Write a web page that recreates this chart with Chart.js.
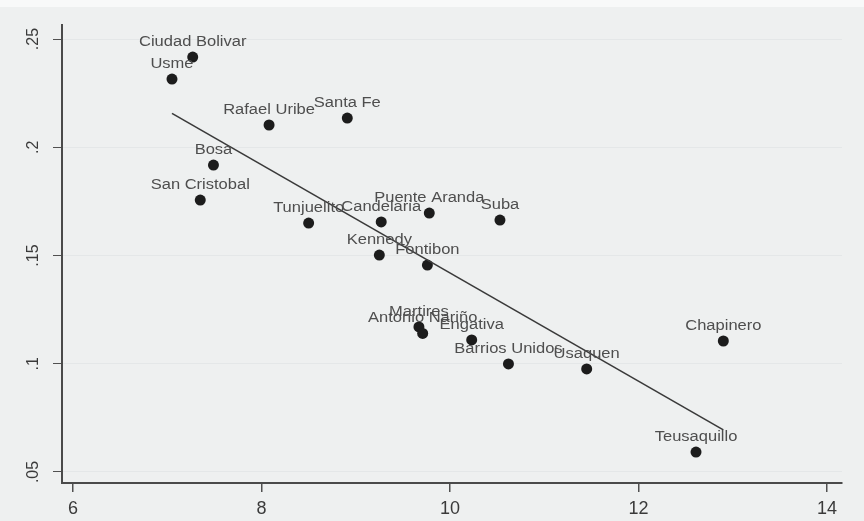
<!DOCTYPE html>
<html>
<head>
<meta charset="utf-8">
<script src="https://cdn.jsdelivr.net/npm/chart.js@4.4.1/dist/chart.umd.min.js"></script>
<style>
  html, body { margin: 0; padding: 0; background: #eef0f0; }
  #wrap { width: 864px; height: 521px; position: relative; }
</style>
</head>
<body>
<div id="wrap"><canvas id="c" width="864" height="521"></canvas></div>
<script>
// Bogotá localities: one point per locality
const localities = [
  'Ciudad Bolivar', 'Usme', 'Rafael Uribe', 'Santa Fe', 'Bosa', 'San Cristobal',
  'Tunjuelito', 'Candelaria', 'Puente Aranda', 'Suba', 'Kennedy', 'Fontibon',
  'Martires', 'Antonio Nariño', 'Engativa', 'Barrios Unidos', 'Usaquen',
  'Chapinero', 'Teusaquillo'
];
const xValues = [
  7.27, 7.05, 8.08, 8.91, 7.49, 7.35,
  8.50, 9.27, 9.78, 10.53, 9.25, 9.76,
  9.67, 9.71, 10.23, 10.62, 11.45,
  12.90, 12.61
];
const yValues = [
  0.2417, 0.2315, 0.2103, 0.2135, 0.1918, 0.1756,
  0.1650, 0.1655, 0.1696, 0.1664, 0.1502, 0.1456,
  0.1170, 0.1140, 0.1110, 0.0999, 0.0976,
  0.1105, 0.0592
];
const xTicks = [6, 8, 10, 12, 14];
const yTicks = [0.05, 0.1, 0.15, 0.2, 0.25];
const yTickLabels = ['.05', '.1', '.15', '.2', '.25'];

// Least-squares fitted line over the observed x range
function linearFit(xs, ys) {
  const n = xs.length;
  const mx = xs.reduce((a, b) => a + b, 0) / n;
  const my = ys.reduce((a, b) => a + b, 0) / n;
  let sxy = 0, sxx = 0;
  for (let i = 0; i < n; i++) {
    sxy += (xs[i] - mx) * (ys[i] - my);
    sxx += (xs[i] - mx) * (xs[i] - mx);
  }
  const b = sxy / sxx;
  const a = my - b * mx;
  const x0 = Math.min(...xs), x1 = Math.max(...xs);
  return [{ x: x0, y: a + b * x0 }, { x: x1, y: a + b * x1 }];
}

const points = xValues.map((x, i) => ({ x, y: yValues[i] }));
const fitted = linearFit(xValues, yValues);

const paperBackground = {
  id: 'paperBackground',
  beforeDraw(chart) {
    const ctx = chart.ctx;
    ctx.save();
    ctx.fillStyle = '#eef0f0';
    ctx.fillRect(0, 0, chart.width, chart.height);
    ctx.fillStyle = '#f8f9f9';
    ctx.fillRect(0, 0, chart.width, 7);
    ctx.restore();
  }
};

// Vertical (rotated) tick labels on the y axis
const yTickText = {
  id: 'yTickText',
  afterDraw(chart) {
    const ctx = chart.ctx;
    const ys = chart.scales.y;
    ctx.save();
    ctx.fillStyle = '#3a3a3a';
    ctx.font = '16px "Liberation Sans", Arial, sans-serif';
    ctx.textAlign = 'center';
    ctx.textBaseline = 'middle';
    yTicks.forEach((v, i) => {
      const py = ys.getPixelForValue(v);
      ctx.save();
      ctx.translate(34, py);
      ctx.rotate(-Math.PI / 2);
      ctx.fillText(yTickLabels[i], 0, 0);
      ctx.restore();
    });
    ctx.restore();
  }
};

// Locality names centred above each marker
const pointNames = {
  id: 'pointNames',
  afterDatasetsDraw(chart) {
    const ctx = chart.ctx;
    const meta = chart.getDatasetMeta(0);
    ctx.save();
    ctx.fillStyle = '#4e4e4e';
    ctx.font = '14px "Liberation Sans", Arial, sans-serif';
    ctx.textAlign = 'center';
    ctx.textBaseline = 'middle';
    meta.data.forEach((el, i) => {
      ctx.save();
      ctx.translate(el.x, el.y - 15);
      ctx.scale(1.18, 1);
      ctx.fillText(localities[i], 0, 0);
      ctx.restore();
    });
    ctx.restore();
  }
};

new Chart(document.getElementById('c'), {
  type: 'scatter',
  data: {
    datasets: [
      {
        data: points,
        pointRadius: 5.5,
        pointHoverRadius: 5.5,
        pointBackgroundColor: '#1c1c1c',
        pointBorderWidth: 0,
        order: 2
      },
      {
        type: 'line',
        data: fitted,
        borderColor: '#3a3a3a',
        borderWidth: 1.6,
        pointRadius: 0,
        fill: false,
        order: 1
      }
    ]
  },
  options: {
    responsive: false,
    animation: false,
    events: [],
    layout: { padding: { left: 0, top: 25, right: 22, bottom: 0 } },
    plugins: { legend: { display: false }, tooltip: { enabled: false } },
    scales: {
      x: {
        type: 'linear',
        min: 5.883,
        max: 14.159,
        afterBuildTicks: s => { s.ticks = xTicks.map(v => ({ value: v })); },
        afterFit: s => { s.height = 38; },
        grid: { drawOnChartArea: false, drawTicks: true, tickLength: 9, tickColor: '#505050', lineWidth: 1.5 },
        border: { display: true, color: '#4a4a4a', width: 2 },
        ticks: {
          color: '#3a3a3a',
          font: { family: '"Liberation Sans", Arial, sans-serif', size: 18 },
          padding: 6,
          maxRotation: 0,
          autoSkip: false,
          callback: v => String(v)
        }
      },
      y: {
        type: 'linear',
        min: 0.0449,
        max: 0.2565,
        afterBuildTicks: s => { s.ticks = yTicks.map(v => ({ value: v })); },
        afterFit: s => { s.width = 62; },
        grid: { drawOnChartArea: true, color: 'rgba(215,219,221,0.45)', lineWidth: 1, drawTicks: true, tickLength: 9, tickColor: '#505050' },
        border: { display: true, color: '#4a4a4a', width: 2 },
        ticks: { display: false }
      }
    }
  },
  plugins: [paperBackground, yTickText, pointNames]
});
</script>
</body>
</html>
